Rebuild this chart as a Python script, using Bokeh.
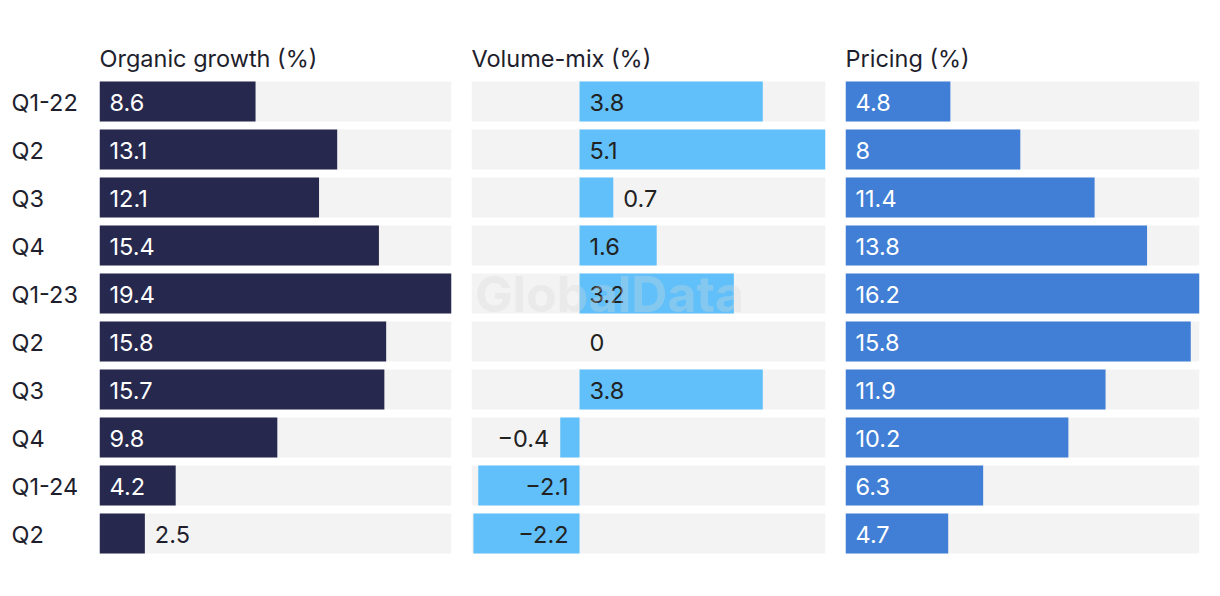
from bokeh.plotting import figure
from bokeh.layouts import row
from bokeh.models import Range1d, ColumnDataSource, Label, Title
from bokeh.core.properties import value
from bokeh.embed import file_html
from bokeh.resources import INLINE

quarters = ["Q1-22", "Q2", "Q3", "Q4", "Q1-23", "Q2", "Q3", "Q4", "Q1-24", "Q2"]
organic = [8.6, 13.1, 12.1, 15.4, 19.4, 15.8, 15.7, 9.8, 4.2, 2.5]
volume_mix = [3.8, 5.1, 0.7, 1.6, 3.2, 0.0, 3.8, -0.4, -2.1, -2.2]
pricing = [4.8, 8.0, 11.4, 13.8, 16.2, 15.8, 11.9, 10.2, 6.3, 4.7]
titles = ["Organic growth (%)", "Volume-mix (%)", "Pricing (%)"]

FONT = "Inter"
FS = "23.5px"
TXT = "#1e1e2c"
GREY = "#f3f3f3"
H = 587
TOP = 77
BOTTOM = 30
n = len(quarters)
ys = list(range(n))


def fmt(v):
    s = f"{v:g}"
    return s.replace("-", "\u2212")


def base_fig(width, xr, bl, br):
    p = figure(width=width, height=H, x_range=xr, y_range=Range1d(n - 0.5, -0.5),
               output_backend="svg", toolbar_location=None,
               x_axis_location=None, y_axis_location=None,
               min_border_left=bl, min_border_right=br,
               min_border_top=TOP, min_border_bottom=BOTTOM)
    p.grid.visible = False
    p.outline_line_color = None
    p.background_fill_color = None
    p.border_fill_color = None
    return p


def panel(title, vals, color, in_color, out_color, start, end, frame_w, bl, br):
    xr = Range1d(start, end)
    p = base_fig(frame_w + bl + br, xr, bl, br)
    p.title = Title(text=title, align="left", text_font=FONT, text_font_size=FS,
                    text_font_style="normal", text_color=TXT, offset=0, standoff=10)
    p.hbar(y=ys, left=[start] * n, right=[end] * n, height=40 / 48,
           fill_color=GREY, line_color=None)
    p.hbar(y=ys, left=[0] * n, right=vals, height=40 / 48,
           fill_color=color, line_color=None)
    ppu = frame_w / (end - start)
    L = dict(x=[], y=[], t=[], c=[])
    R = dict(x=[], y=[], t=[], c=[])
    for i, v in enumerate(vals):
        inside = abs(v) * ppu >= 60
        d = L if v >= 0 else R
        d["x"].append(0 if inside else v)
        d["y"].append(i)
        d["t"].append(fmt(v))
        d["c"].append(in_color if inside else out_color)
    p.text(x="x", y="y", text="t", text_color="c", source=ColumnDataSource(L),
           text_align="left", text_baseline="middle", x_offset=10, y_offset=1,
           text_font=value(FONT), text_font_size=FS)
    p.text(x="x", y="y", text="t", text_color="c", source=ColumnDataSource(R),
           text_align="right", text_baseline="middle", x_offset=-11, y_offset=1,
           text_font=value(FONT), text_font_size=FS)
    return p


# category label column
p0 = base_fig(99, Range1d(0, 1), 0, 0)
p0.text(x=[0] * n, y=ys, text=quarters, text_align="left", text_baseline="middle",
        x_offset=11, y_offset=1, text_color=TXT, text_font=value(FONT), text_font_size=FS)

p1 = panel(titles[0], organic, "#27284d", "#ffffff", TXT, 0, max(organic), 352, 0, 10)
p2 = panel(titles[1], volume_mix, "#61c0f9", "#222222", "#222222", -2.24, max(volume_mix), 354, 10, 10)
p3 = panel(titles[2], pricing, "#417fd6", "#ffffff", TXT, 0, max(pricing), 354, 10, 12)

wm = Label(x=138, y=264, x_units="screen", y_units="screen", text="GlobalData",
           text_align="center", text_baseline="middle", text_font=FONT,
           text_font_size="50px", text_font_style="bold", text_color="#d8d8d8",
           text_alpha=0.3)
p2.add_layout(wm)

layout = row(p0, p1, p2, p3)
open("out.html", "w").write(file_html(layout, INLINE))
